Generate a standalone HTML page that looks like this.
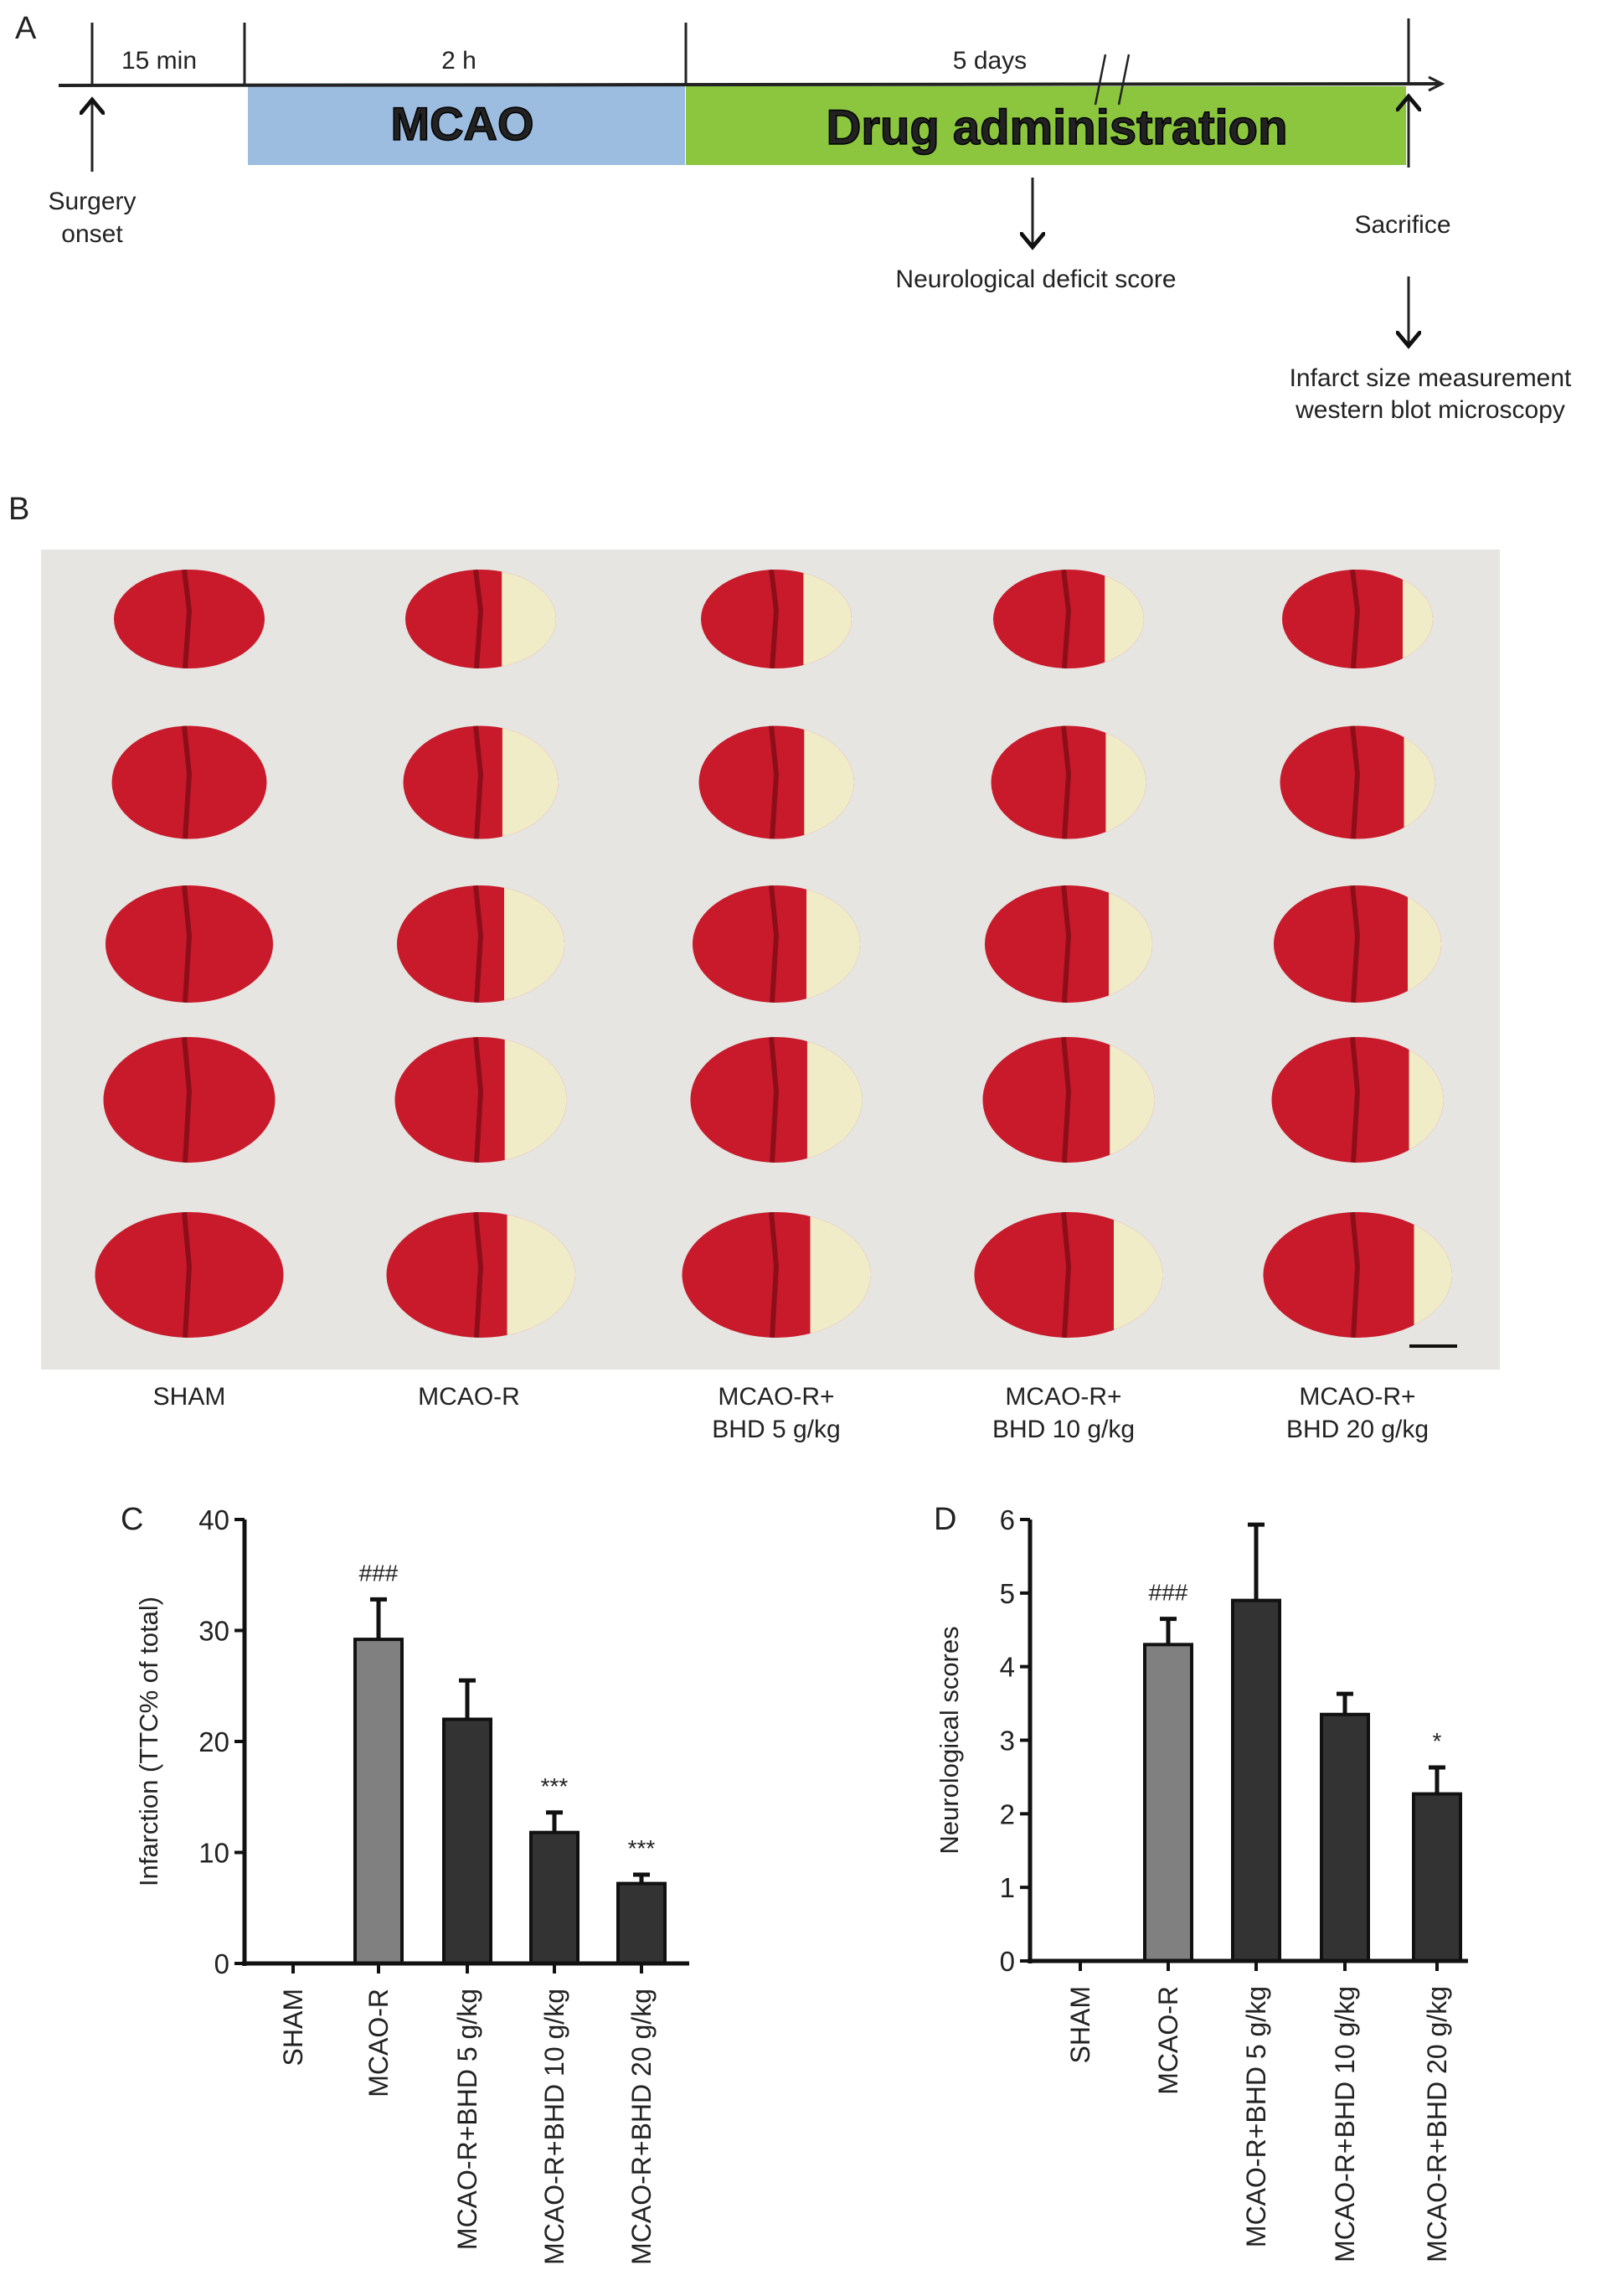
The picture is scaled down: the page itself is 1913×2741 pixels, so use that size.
<!DOCTYPE html>
<html><head><meta charset="utf-8"><style>
html,body{margin:0;padding:0;background:#fff}
svg{display:block}
text{font-family:"Liberation Sans",sans-serif;fill:#222}
</style></head><body>
<svg id="fig" width="1913" height="2741" viewBox="0 0 1913 2741" xmlns="http://www.w3.org/2000/svg">
<defs>
<marker id="ah" markerWidth="10" markerHeight="10" refX="5" refY="5" orient="auto"><path d="M0,0 L6,5 L0,10" fill="none" stroke="#111" stroke-width="1.6"/></marker>
</defs>
<g id="panelA">
<text x="18" y="46" font-size="38">A</text>
<rect x="296" y="103" width="522" height="94" fill="#9dbde0"/>
<rect x="819" y="103" width="860" height="94" fill="#8cc63f"/>
<line x1="70" y1="102" x2="1720" y2="100" stroke="#222" stroke-width="4"/>
<path d="M1706,92 L1722,100 L1706,108" fill="none" stroke="#222" stroke-width="3"/>
<line x1="110" y1="27" x2="110" y2="102" stroke="#222" stroke-width="3"/>
<line x1="292" y1="27" x2="292" y2="102" stroke="#222" stroke-width="3"/>
<line x1="819" y1="27" x2="819" y2="102" stroke="#222" stroke-width="3"/>
<line x1="1682" y1="22" x2="1682" y2="102" stroke="#222" stroke-width="3"/>
<line x1="1308" y1="125" x2="1320" y2="65" stroke="#222" stroke-width="2.5"/>
<line x1="1336" y1="125" x2="1348" y2="65" stroke="#222" stroke-width="2.5"/>
<text x="190" y="82" font-size="30" text-anchor="middle">15 min</text>
<text x="548" y="82" font-size="30" text-anchor="middle">2 h</text>
<text x="1182" y="82" font-size="30" text-anchor="middle">5 days</text>
<text x="552" y="167" font-size="56" font-weight="bold" text-anchor="middle" fill="#000" stroke="#000" stroke-width="1.5">MCAO</text>
<text x="1262" y="172" font-size="58" font-weight="bold" text-anchor="middle" fill="#000" stroke="#000" stroke-width="1.5">Drug administration</text>
<line x1="110" y1="205" x2="110" y2="122" stroke="#222" stroke-width="3" marker-end="url(#ah)"/>
<line x1="1682" y1="200" x2="1682" y2="118" stroke="#222" stroke-width="3" marker-end="url(#ah)"/>
<line x1="1233" y1="212" x2="1233" y2="292" stroke="#222" stroke-width="3" marker-end="url(#ah)"/>
<line x1="1682" y1="330" x2="1682" y2="410" stroke="#222" stroke-width="3" marker-end="url(#ah)"/>
<text x="110" y="250" font-size="30" text-anchor="middle"><tspan x="110">Surgery</tspan><tspan x="110" dy="39">onset</tspan></text>
<text x="1237" y="343" font-size="30" text-anchor="middle">Neurological deficit score</text>
<text x="1675" y="278" font-size="30" text-anchor="middle">Sacrifice</text>
<text x="1708" y="461" font-size="30" text-anchor="middle"><tspan x="1708">Infarct size measurement</tspan><tspan x="1708" dy="38">western blot microscopy</tspan></text>
</g>
<g id="panelB">
<text x="10" y="620" font-size="38">B</text>
<rect x="49" y="656" width="1742" height="979" fill="#e6e5e1"/>
<g id="brains"></g>
<line x1="1683" y1="1607" x2="1740" y2="1607" stroke="#111" stroke-width="4"/>
<g font-size="30" text-anchor="middle">
<text x="226" y="1677">SHAM</text>
<text x="560" y="1677">MCAO-R</text>
<text x="927" y="1677"><tspan x="927">MCAO-R+</tspan><tspan x="927" dy="39">BHD 5 g/kg</tspan></text>
<text x="1270" y="1677"><tspan x="1270">MCAO-R+</tspan><tspan x="1270" dy="39">BHD 10 g/kg</tspan></text>
<text x="1621" y="1677"><tspan x="1621">MCAO-R+</tspan><tspan x="1621" dy="39">BHD 20 g/kg</tspan></text>
</g>
</g>
<g id="chartC"></g>
<g id="chartD"></g>
</svg>
<script>
const NS="http://www.w3.org/2000/svg";
function mk(tag,attrs,parent){const e=document.createElementNS(NS,tag);for(const k in attrs)e.setAttribute(k,attrs[k]);parent.appendChild(e);return e;}

const colX=[226,574,927,1276,1621];
const rowY=[739,934,1127,1313,1522];
const infarctFrac=[0,0.36,0.32,0.26,0.2];
const rowW=[180,185,200,205,225];
const rowH=[118,135,140,150,150];
const bg=document.getElementById('brains');
colX.forEach((cx,ci)=>{rowY.forEach((cy,ri)=>{
  const w=rowW[ri],h=rowH[ri];
  const id='cp'+ci+'_'+ri;
  const cp=mk('clipPath',{id:id},bg);
  mk('ellipse',{cx:cx,cy:cy,rx:w/2,ry:h/2},cp);
  const g=mk('g',{'clip-path':'url(#'+id+')'},bg);
  
  
  mk('rect',{x:cx-w/2,y:cy-h/2,width:w,height:h,fill:'#c81a2b'},g);
  mk('path',{d:`M${cx-6},${cy-h/2} L${cx},${cy-10} L${cx-5},${cy+h/2}`,stroke:'#8e0d1a','stroke-width':6,fill:'none'},g);
  if(infarctFrac[ci]>0){
    const fw=w*infarctFrac[ci];
    mk('rect',{x:cx+w/2-fw,y:cy-h/2,width:fw,height:h,fill:'#f1ecc8'},g);
  }
});});

const categories=["SHAM","MCAO-R","MCAO-R+BHD 5 g/kg","MCAO-R+BHD 10 g/kg","MCAO-R+BHD 20 g/kg"];
const infarctVals=[0,29.2,22.0,11.8,7.2];
const infarctErr=[0,3.6,3.5,1.8,0.8];
const infarctMarks=["","###","","***","***"];
const infarctTicks=[0,10,20,30,40];
const neuroVals=[0,4.3,4.9,3.35,2.27];
const neuroErr=[0,0.35,1.03,0.28,0.36];
const neuroMarks=["","###","","","*"];
const neuroTicks=[0,1,2,3,4,5,6];
const barColors=["#333","#808080","#333","#333","#333"];

function drawChart(gid,o){
  const g=document.getElementById(gid);
  const y=v=>o.y0-(v-o.min)/(o.max-o.min)*(o.y0-o.yTop);
  const x=i=>o.xs[i];
  const lab=mk('text',{x:o.labelX,y:1826,'font-size':38},g);
  lab.textContent=o.label;
  
  
  categories.forEach((c,i)=>{
    const v=o.vals[i];
    if(v>0){
      const top=y(v+o.err[i]);
      const eb=mk('line',{x1:x(i),x2:x(i),y1:y(v),y2:top,stroke:'#111','stroke-width':5},g);
      
      
      mk('line',{x1:x(i)-10,x2:x(i)+10,y1:top,y2:top,stroke:'#111','stroke-width':5},g);
      const r=mk('rect',{x:x(i)-o.bw/2,y:y(v),width:o.bw,height:o.y0-y(v),fill:barColors[i],stroke:'#111','stroke-width':4},g);
      
      
      if(o.marks[i]){
        const t=mk('text',{x:x(i),y:top-22,'font-size':28,'text-anchor':'middle'},g);
        t.textContent=o.marks[i];
        
        
      }
    }
    mk('line',{x1:x(i),x2:x(i),y1:o.y0,y2:o.y0+12,stroke:'#111','stroke-width':4},g);
    const tl=mk('text',{x:0,y:0,'font-size':32,'text-anchor':'end',transform:`translate(${x(i)+11},${o.y0+30}) rotate(-90)`},g);
    tl.textContent=c;
    
    
  });
  const ya=mk('line',{x1:o.ax,x2:o.ax,y1:o.yTop,y2:o.y0+3,stroke:'#111','stroke-width':5},g);
  
  
  const xa=mk('line',{x1:o.ax-3,x2:o.xEnd,y1:o.y0,y2:o.y0,stroke:'#111','stroke-width':5},g);
  
  
  o.ticks.forEach(t=>{
    mk('line',{x1:o.ax-12,x2:o.ax,y1:y(t),y2:y(t),stroke:'#111','stroke-width':4},g);
    const tt=mk('text',{x:o.ax-18,y:y(t)+12,'font-size':33,'text-anchor':'end'},g);
    tt.textContent=t;
    
    
  });
  const yt=mk('text',{x:0,y:0,'font-size':31,'text-anchor':'middle',transform:`translate(${o.titleX},${(o.yTop+o.y0)/2}) rotate(-90)`},g);
  yt.textContent=o.title;
  
  
}
drawChart('chartC',{label:'C',labelX:144,ax:292,xEnd:823,yTop:1814,y0:2344,min:0,max:40,xs:[350,452,558,662,766],bw:56,
  vals:infarctVals,err:infarctErr,marks:infarctMarks,ticks:infarctTicks,title:'Infarction (TTC% of total)',titleX:188});
drawChart('chartD',{label:'D',labelX:1115,ax:1230,xEnd:1753,yTop:1814,y0:2341,min:0,max:6,xs:[1290,1395,1500,1606,1716],bw:56,
  vals:neuroVals,err:neuroErr,marks:neuroMarks,ticks:neuroTicks,title:'Neurological scores',titleX:1144});
</script>
</body></html>
